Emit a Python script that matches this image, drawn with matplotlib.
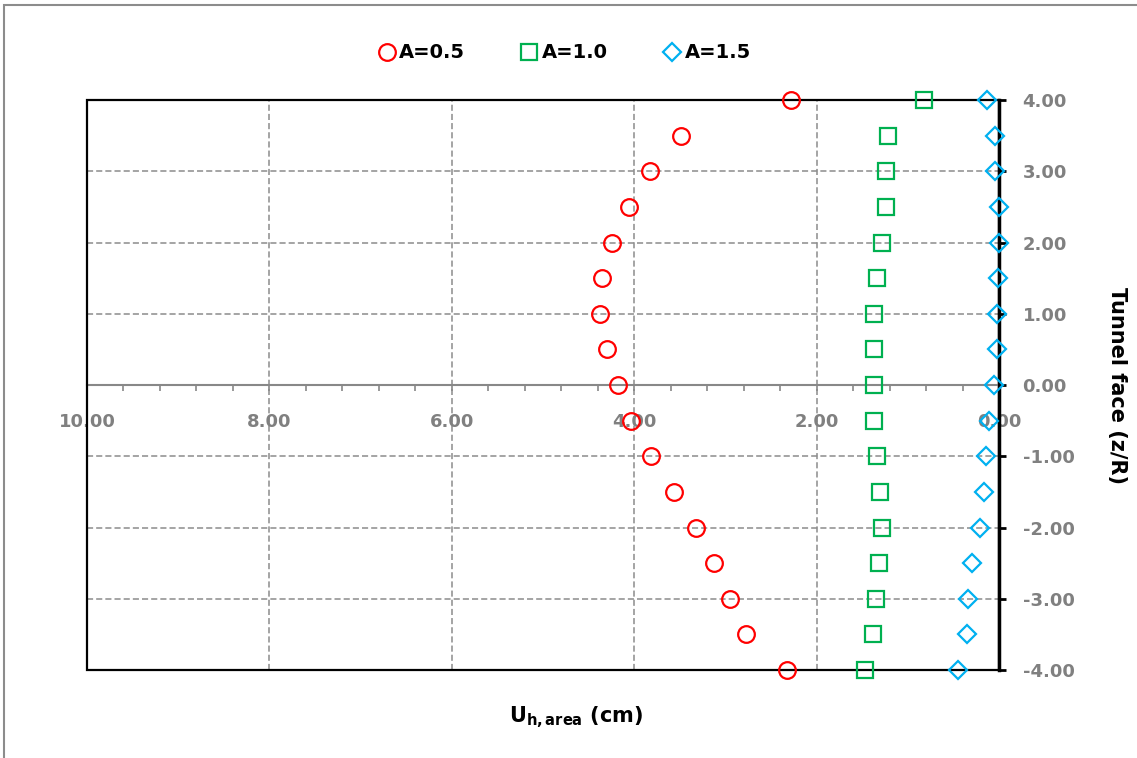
import matplotlib.pyplot as plt
from matplotlib.patches import Rectangle
from matplotlib.ticker import MultipleLocator, FormatStrFormatter

# Depth along tunnel face (z/R)
z = [4.0, 3.5, 3.0, 2.5, 2.0, 1.5, 1.0, 0.5, 0.0,
     -0.5, -1.0, -1.5, -2.0, -2.5, -3.0, -3.5, -4.0]

# Horizontal displacement U_h,area (cm) for each A
u_a05 = [2.28, 3.49, 3.83, 4.06, 4.24, 4.35, 4.37, 4.30, 4.18,
         4.04, 3.82, 3.56, 3.32, 3.13, 2.95, 2.77, 2.32]
u_a10 = [0.82, 1.22, 1.24, 1.24, 1.28, 1.34, 1.37, 1.37, 1.37,
         1.37, 1.34, 1.30, 1.28, 1.32, 1.35, 1.38, 1.47]
u_a15 = [0.13, 0.04, 0.04, 0.00, 0.00, 0.01, 0.02, 0.02, 0.06,
         0.11, 0.14, 0.16, 0.21, 0.30, 0.34, 0.35, 0.45]

labels = ["A=0.5", "A=1.0", "A=1.5"]

plt.rcParams['font.family'] = ['DejaVu Sans']
plt.rcParams['mathtext.default'] = 'regular'

fig = plt.figure(figsize=(11.37, 7.58), dpi=100)
ax = fig.add_axes([87 / 1137, 1 - 670 / 758, 912 / 1137, 570 / 758])

ax.plot(u_a05, z, 'o', ms=12, mfc='none', mec='#ff0000', mew=1.6, label=labels[0], clip_on=False, zorder=5)
ax.plot(u_a10, z, 's', ms=11.5, mfc='none', mec='#00b050', mew=1.6, label=labels[1], clip_on=False, zorder=5)
ax.plot(u_a15, z, 'D', ms=9, mfc='none', mec='#00b0f0', mew=1.6, label=labels[2], clip_on=False, zorder=5)

ax.set_xlim(10, 0)
ax.set_ylim(-4, 4)

# x axis sits at z=0, y axis on the right at U=0
for s in ['top', 'left']:
    ax.spines[s].set_visible(False)
ax.spines['bottom'].set_position(('data', 0))
ax.spines['bottom'].set_color('#888888')
ax.spines['bottom'].set_linewidth(1.5)
ax.spines['right'].set_linewidth(2.5)
ax.spines['right'].set_color('black')
ax.add_patch(Rectangle((0, 0), 1, 1, transform=ax.transAxes, fill=False,
                       ec='black', lw=1.6, clip_on=False, zorder=4))

ax.xaxis.set_major_locator(MultipleLocator(2))
ax.xaxis.set_minor_locator(MultipleLocator(0.4))
ax.xaxis.set_major_formatter(FormatStrFormatter('%.2f'))
ax.tick_params(axis='x', which='both', direction='out', length=4, width=1.2,
               color='#888888', pad=16, labelsize=13, labelcolor='#808080')
for t in ax.get_xticklabels():
    t.set_fontweight('bold')

ax.yaxis.tick_right()
ax.yaxis.set_major_locator(MultipleLocator(1))
ax.yaxis.set_major_formatter(FormatStrFormatter('%.2f'))
ax.tick_params(axis='y', direction='out', length=5, width=2, color='black',
               pad=12, labelsize=13, labelcolor='#808080')
for t in ax.get_yticklabels():
    t.set_fontweight('bold')

ax.grid(True, which='major', ls=(0, (4, 2)), color='#8c8c8c', lw=1.1)

ax.set_xlabel('U$_{h,area}$ (cm)', fontsize=15, fontweight='bold', labelpad=0)
ax.xaxis.set_label_coords(0.536, -0.06)
ax.yaxis.set_label_position('right')
ax.set_ylabel('Tunnel face (z/R)', fontsize=15, fontweight='bold', rotation=270, labelpad=0)
ax.yaxis.set_label_coords(1.14, 0.5)

fig.legend(loc='center', bbox_to_anchor=(564 / 1137, 1 - 53 / 758), ncol=3, frameon=False,
           prop={'weight': 'bold', 'size': 14}, handletextpad=0.15, columnspacing=2.8,
           handlelength=1.0)

# chart frame
fig.add_artist(Rectangle((4 / 1137, -0.1), 1.2, 1 - 5 / 758 + 0.1, transform=fig.transFigure,
                         fill=False, ec='#8c8c8c', lw=1.5))

fig.savefig('out.png', dpi=100)
